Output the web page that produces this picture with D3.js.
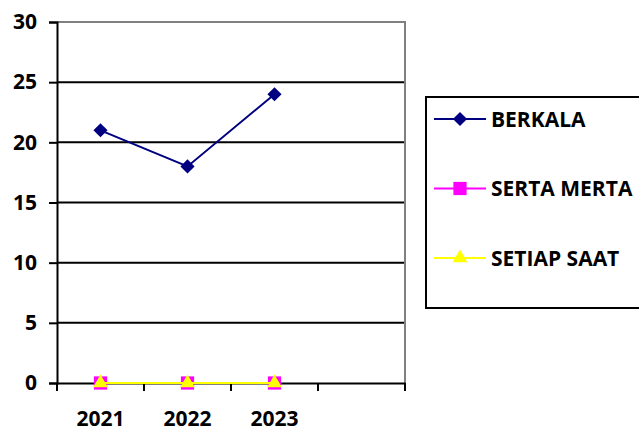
<html><head>
    <title>Berkala / Serta Merta / Setiap Saat</title>
    <script src="https://d3js.org/d3.v7.min.js"></script>
    <style>
        body { margin: 0; background: #fff; }
        text { font-family: "Open Sans", "Liberation Sans", Arial, sans-serif; font-weight: bold; fill: #000; }
    </style>
</head>
<body>
<div id="chart"></div>

<script>
    const svgWidth = 639;
    const svgHeight = 432;

    // data
    const years = ["2021", "2022", "2023", ""];
    const berkala = [21, 18, 24];
    const sertaMerta = [0, 0, 0];
    const setiapSaat = [0, 0, 0];
    const yTicks = [0, 5, 10, 15, 20, 25, 30];
    const seriesNames = ["BERKALA", "SERTA MERTA", "SETIAP SAAT"];

    const plotLeft = 57, plotRight = 405, plotTop = 22, plotBottom = 383;
    const fontSize = 21;

    const svg = d3.select("#chart").append("svg")
        .attr("width", svgWidth)
        .attr("height", svgHeight);

    const xScale = d3.scaleBand().domain(years).range([plotLeft, plotRight]);
    const yScale = d3.scaleLinear().domain([0, 30]).range([plotBottom, plotTop]);

    // gridlines
    svg.append("g").selectAll("line")
        .data(yTicks.filter(d => d > 0 && d < 30))
        .enter().append("line")
        .attr("x1", plotLeft).attr("x2", plotRight)
        .attr("y1", d => yScale(d)).attr("y2", d => yScale(d))
        .attr("stroke", "#000").attr("stroke-width", 2);

    // plot border top / right (grey)
    svg.append("path")
        .attr("d", "M" + plotLeft + "," + yScale(30) + "H" + plotRight + "V" + plotBottom)
        .attr("fill", "none").attr("stroke", "#808080").attr("stroke-width", 2);

    // y axis
    const leftAxis = d3.axisLeft(yScale).tickValues(yTicks).tickSize(8).tickPadding(12);
    const ya = svg.append("g")
        .attr("transform", "translate(" + plotLeft + ",0)")
        .call(leftAxis);
    ya.selectAll("path, line").attr("stroke", "#000").attr("stroke-width", 2);
    ya.selectAll("text").style("font-size", fontSize + "px").attr("fill", "#000");

    // x axis
    const xa = svg.append("g")
        .attr("transform", "translate(0," + plotBottom + ")")
        .call(d3.axisBottom(xScale).tickSize(0).tickPadding(28));
    xa.select(".domain").attr("stroke", "#000").attr("stroke-width", 2);
    xa.selectAll("text").style("font-size", fontSize + "px").attr("fill", "#000");

    // category boundary ticks
    const bounds = years.map(d => xScale(d)).concat([plotRight]);
    svg.append("g").selectAll("line")
        .data(bounds)
        .enter().append("line")
        .attr("x1", d => d).attr("x2", d => d)
        .attr("y1", plotBottom).attr("y2", plotBottom + 8)
        .attr("stroke", "#000").attr("stroke-width", 2);

    const cx = (d, i) => xScale(years[i]) + xScale.bandwidth() / 2;
    const line = d3.line().x(cx).y(d => yScale(d));

    // diamond = square turned 45 degrees
    const series = [
        {name: seriesNames[0], values: berkala, color: "#000080", symbol: d3.symbolSquare, size: 100, rot: 45},
        {name: seriesNames[1], values: sertaMerta, color: "#FF00FF", symbol: d3.symbolSquare, size: 175, rot: 0},
        {name: seriesNames[2], values: setiapSaat, color: "#FFFF00", symbol: d3.symbolTriangle, size: 95, rot: 0}
    ];

    series.forEach(s => {
        svg.append("path")
            .datum(s.values)
            .attr("fill", "none")
            .attr("stroke", s.color)
            .attr("stroke-width", 2)
            .attr("d", line);
        svg.append("g").selectAll("path")
            .data(s.values)
            .enter().append("path")
            .attr("transform", (d, i) => "translate(" + cx(d, i) + "," + yScale(d) + ") rotate(" + s.rot + ")")
            .attr("d", d3.symbol().type(s.symbol).size(s.size))
            .attr("fill", s.color);
    });

    // legend
    const legend = svg.append("g");
    legend.append("rect")
        .attr("x", 426).attr("y", 97)
        .attr("width", 240).attr("height", 211)
        .attr("fill", "#fff").attr("stroke", "#000").attr("stroke-width", 2);

    series.forEach((s, i) => {
        const ly = 119 + i * 69.5;
        legend.append("line")
            .attr("x1", 434).attr("x2", 486)
            .attr("y1", ly).attr("y2", ly)
            .attr("stroke", s.color).attr("stroke-width", 2);
        legend.append("path")
            .attr("transform", "translate(460," + ly + ") rotate(" + s.rot + ")")
            .attr("d", d3.symbol().type(s.symbol).size(s.size))
            .attr("fill", s.color);
        legend.append("text")
            .attr("x", 491).attr("y", ly)
            .attr("dy", "0.36em")
            .style("font-size", fontSize + "px")
            .text(s.name);
    });
</script>
</body></html>
